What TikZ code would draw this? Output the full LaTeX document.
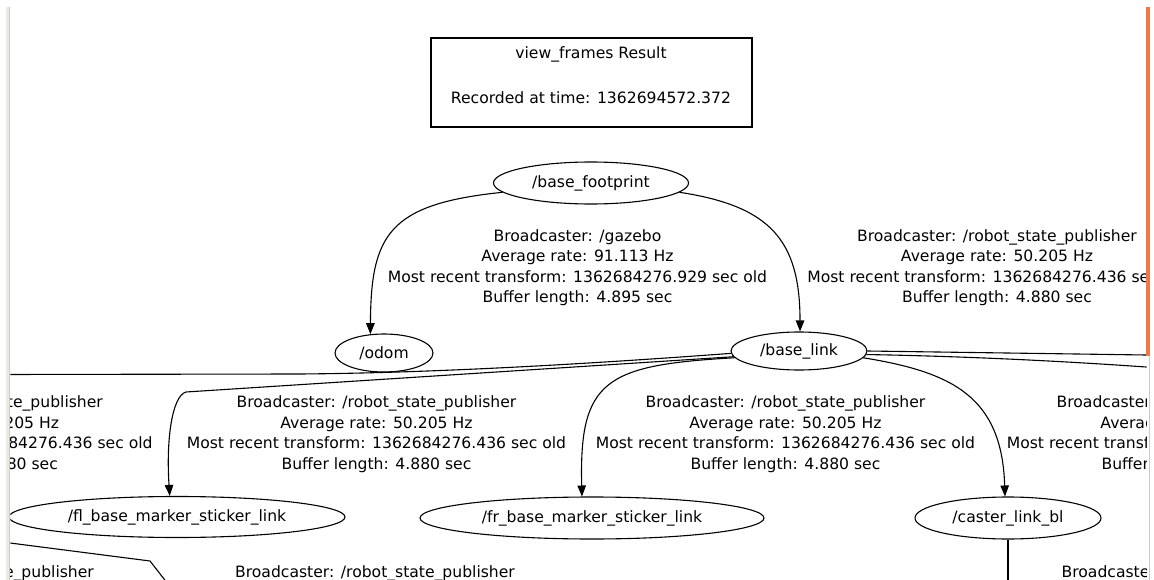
\documentclass[tikz,border=0pt]{standalone}
\usepackage{fontspec}
\setmainfont{DejaVu Sans}
\usetikzlibrary{shapes.geometric,arrows.meta}
\definecolor{winorange}{RGB}{240,119,70}
\definecolor{panelgray}{RGB}{236,234,231}
\definecolor{paneledge}{RGB}{205,203,200}
% four-line transform summary printed beside each edge
\newcommand{\tfinfo}[4]{Broadcaster: #1\\Average rate: #2\\Most recent transform: #3 sec old\\Buffer length: #4 sec}

\begin{document}
\begin{tikzpicture}[x=1pt,y=-1pt,
  every node/.style={font=\fontsize{15.6}{20.5}\selectfont},
  frame/.style={draw, ellipse, line width=1.1pt, inner sep=0pt, minimum height=40},
  info/.style={align=center, inner sep=0pt},
  tf/.style={line width=1.1pt, -{Triangle[length=11pt,width=8.5pt]}},
  link/.style={line width=1.1pt},
  titlebox/.style={draw, line width=2pt, minimum width=321, minimum height=89, inner sep=0pt}]

\useasboundingbox (0,0) rectangle (1154,580);
\fill[white] (0,0) rectangle (1154,580);

\begin{scope}
\clip (10.3,7) rectangle (1146.5,580);

% header
\node[titlebox] (title) at (591,82.5) {};
\node[info] (titletext) at (591,75.3) {view\_frames Result\\[24.3pt]Recorded at time: 1362694572.372};

% frames
\node[frame, minimum width=195, minimum height=42] (bf) at (591,183) {/base\_footprint};
\node[frame, minimum width=98, minimum height=38] (odom) at (384,353) {/odom};
\node[frame, minimum width=136, minimum height=38] (bl) at (799,351) {/base\_link};
\node[frame, minimum width=336, minimum height=41] (fl) at (177,517) {/fl\_base\_marker\_sticker\_link};
\node[frame, minimum width=344, minimum height=42] (fr) at (592,518) {/fr\_base\_marker\_sticker\_link};
\node[frame, minimum width=186, minimum height=42] (cl) at (1008,518) {/caster\_link\_bl};

% loose ends of edges that run out of view
\coordinate (offW) at (0,374.5);
\coordinate (offE1) at (1160,355.2);
\coordinate (offE2) at (1160,368);
\coordinate (offSW1) at (0,541.7);
\coordinate (offSW2) at (170,586.6);
\coordinate (offS) at (1008,590);

% edges
\draw[tf] (bf.186) .. controls (388,204) and (371,235) .. (odom.126);
\draw[tf] (bf.354) .. controls (770,206) and (800,240) .. (bl.87);
\draw[link] (bl.182) .. controls (560,366) and (420,373) .. (300,374) -- (offW);
\draw[tf] (bl.185) -- (186,392) .. controls (172,396) and (166,440) .. (fl.109);
\draw[tf] (bl.186) .. controls (605,365) and (579,380) .. (fr.115);
\draw[tf] (bl.354) .. controls (950,372) and (1002,395) .. (cl.98);
\draw[link] (bl.0) -- (offE1);
\draw[link] (bl.357) .. controls (950,356) and (1050,360) .. (offE2);
\draw[link] (offSW1) -- (150,561) -- (offSW2);
\draw[link] (cl.south) -- (offS);

% edge annotations
\node[info] (i1) at (577.5,267.5) {\tfinfo{/gazebo}{91.113 Hz}{1362684276.929}{4.895}};
\node[info] (i2) at (997,267.5) {\tfinfo{/robot\_state\_publisher}{50.205 Hz}{1362684276.436}{4.880}};
\node[info] (i3) at (-37,434) {\tfinfo{/robot\_state\_publisher}{50.205 Hz}{1362684276.436}{4.880}};
\node[info] (i4) at (376.5,434) {\tfinfo{/robot\_state\_publisher}{50.205 Hz}{1362684276.436}{4.880}};
\node[info] (i5) at (785.5,434) {\tfinfo{/robot\_state\_publisher}{50.205 Hz}{1362684276.436}{4.880}};
\node[info] (i6) at (1196.5,434) {\tfinfo{/robot\_state\_publisher}{50.205 Hz}{1362684276.436}{4.880}};
\node[info, anchor=base] (i7) at (-46,577) {Broadcaster: /robot\_state\_publisher};
\node[info, anchor=base] (i8) at (375,577) {Broadcaster: /robot\_state\_publisher};
\node[info, anchor=base] (i9) at (1201.5,577) {Broadcaster: /robot\_state\_publisher};
\end{scope}

% window borders
\fill[panelgray] (6,7) rectangle (9,580);
\fill[paneledge] (9,7) rectangle (10.3,580);
\fill[winorange] (1146.3,7) rectangle (1149.5,355.5);
\fill[paneledge] (1148.5,355.5) rectangle (1149.6,580);
\end{tikzpicture}
\end{document}
